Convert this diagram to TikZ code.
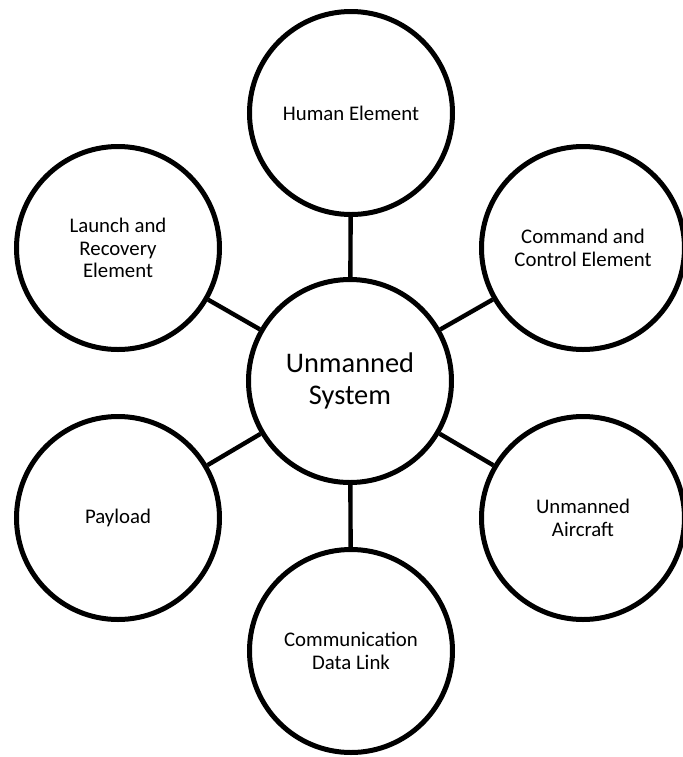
\documentclass[tikz,border=0pt]{standalone}
\usepackage{fontspec}
\setmainfont{Carlito}
\usepackage{tikz}

\begin{document}
\begin{tikzpicture}[x=0.5pt,y=-0.5pt]
\tikzstyle{every node}+=[inner sep=0pt]
\tikzstyle{part}=[draw=black, circle, line width=2.5pt, minimum size=101.5pt, align=center, font=\fontsize{10.4}{11.4}\selectfont]
\tikzstyle{hubpart}=[part, font=\fontsize{14.2}{16}\selectfont]
\tikzstyle{link}=[black, line width=2.2pt]
\useasboundingbox (0,0) rectangle (682,757);
\node [hubpart] (hub) at (350,381) {Unmanned\\System};
\node [part] (human) at (351,113) {Human Element};
\node [part] (launch) at (118,248) {Launch and\\Recovery\\Element};
\node [part] (command) at (583,248) {Command and\\Control Element};
\node [part] (aircraft) at (583,518) {Unmanned\\Aircraft};
\node [part] (payload) at (118,518) {Payload};
\node [part] (datalink) at (351,651) {Communication\\Data Link};
\foreach \n in {human,launch,command,aircraft,payload,datalink}
  \draw [link] (hub) -- (\n);
\end{tikzpicture}
\end{document}
